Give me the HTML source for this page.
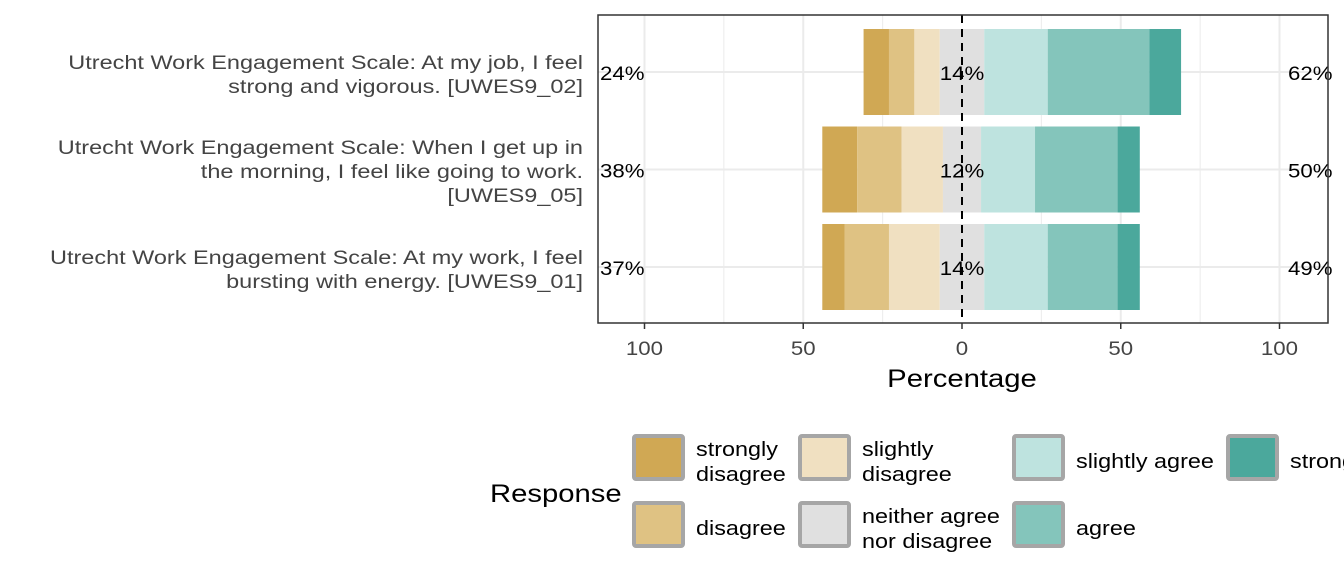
<!DOCTYPE html>
<html><head><meta charset="utf-8"><style>
body{margin:0;background:#fff;font-family:"Liberation Sans",sans-serif}
svg text{font-family:"Liberation Sans",sans-serif}
</style></head><body>
<svg width="1344" height="576" xmlns="http://www.w3.org/2000/svg">
<g id="grid"></g>
<g id="bars"></g>
<g id="labels"></g>
<rect x="598" y="15" width="730" height="308" fill="none" stroke="#333" stroke-width="1.5"/>
<g id="xticks"></g>
<text x="962" y="387" font-size="25" text-anchor="middle" fill="#000">Percentage</text>
<g id="ylabels" font-size="19" fill="#444" text-anchor="end">
<text x="583" y="69">Utrecht Work Engagement Scale: At my job, I feel</text>
<text x="583" y="93">strong and vigorous. [UWES9_02]</text>
<text x="583" y="154">Utrecht Work Engagement Scale: When I get up in</text>
<text x="583" y="178">the morning, I feel like going to work.</text>
<text x="583" y="202">[UWES9_05]</text>
<text x="583" y="264">Utrecht Work Engagement Scale: At my work, I feel</text>
<text x="583" y="288">bursting with energy. [UWES9_01]</text>
</g>
<g id="legend">
<text x="490" y="502" font-size="25" fill="#000">Response</text>
</g>
</svg>
<script>
const NS="http://www.w3.org/2000/svg";
const categories=["UWES9_02","UWES9_05","UWES9_01"];
const stronglyDisagree=[8,11,7];
const disagree=[8,14,14];
const slightlyDisagree=[8,13,16];
const neutral=[14,12,14];
const slightlyAgree=[20,17,20];
const agree=[32,26,22];
const stronglyAgree=[10,7,7];
const leftLabels=["24%","38%","37%"];
const midLabels=["14%","12%","14%"];
const rightLabels=["62%","50%","49%"];
const xTicks=[-100,-50,0,50,100];
const xTickLabels=["100","50","0","50","100"];
const colors=["#D0A854","#DFC283","#F0E0C1","#E0E0E0","#BEE3DF","#84C5BB","#4BA89C"];
const x=v=>962+v*3.175;
const yc=i=>72+i*97.5;
function mk(t,a,p){const e=document.createElementNS(NS,t);for(const k in a)e.setAttribute(k,a[k]);p.appendChild(e);return e;}
const grid=document.getElementById('grid');
for(let v=-100;v<=100;v+=25){if(v===0)continue;const l=mk('line',{x1:x(v),x2:x(v),y1:15,y2:323,stroke:'#ebebeb','stroke-width':v%50===0?2:1},grid);

}
categories.forEach((c,i)=>{const l=mk('line',{x1:598,x2:1328,y1:yc(i),y2:yc(i),stroke:'#ebebeb','stroke-width':2},grid);

});
const bars=document.getElementById('bars');
const series=[stronglyDisagree,disagree,slightlyDisagree,neutral,slightlyAgree,agree,stronglyAgree];
categories.forEach((c,i)=>{
 let start=-(stronglyDisagree[i]+disagree[i]+slightlyDisagree[i]+neutral[i]/2);
 series.forEach((s,k)=>{const r=mk('rect',{x:x(start),y:yc(i)-43,width:s[i]*3.175,height:86,fill:colors[k]},bars);
 
 
 start+=s[i];});
});
const zl=mk('line',{x1:x(0),x2:x(0),y1:15,y2:323,stroke:'#000','stroke-width':2,'stroke-dasharray':'8,6'},bars);


const lab=document.getElementById('labels');
categories.forEach((c,i)=>{
 [[600,leftLabels[i],'start'],[x(0),midLabels[i],'middle'],[1288,rightLabels[i],'start']].forEach(([px,t,a])=>{
 const e=mk('text',{x:px,y:yc(i)+8,'font-size':19,'text-anchor':a,fill:'#000'},lab);e.textContent=t;
 
 });
});
const xt=document.getElementById('xticks');
xTicks.forEach((v,i)=>{const l=mk('line',{x1:x(v),x2:x(v),y1:323,y2:329,stroke:'#333','stroke-width':1.5},xt);


const t=mk('text',{x:x(v),y:355,'font-size':19,'text-anchor':'middle',fill:'#444'},xt);t.textContent=xTickLabels[i];

});
const lg=document.getElementById('legend');
const pos=[[632,434],[632,501],[798,434],[798,501],[1012,434],[1012,501],[1226,434]];
const ltxt=[["strongly","disagree"],["disagree"],["slightly","disagree"],["neither agree","nor disagree"],["slightly agree"],["agree"],["strongly agree"]];
pos.forEach(([px,py],k)=>{const r=mk('rect',{x:px+2,y:py+2,width:49,height:43,fill:colors[k],stroke:'#a6a6a6','stroke-width':4,rx:2},lg);


const lines=ltxt[k];const ty=lines.length===2?py+22:py+34;
lines.forEach((s,j)=>{const t=mk('text',{x:px+64,y:ty+j*25,'font-size':20,fill:'#000'},lg);t.textContent=s;

});});
const yl=document.getElementById('ylabels');
document.querySelectorAll('svg text').forEach(t=>{const f=yl.contains(t)?1.235:1.17;const w=t.getComputedTextLength();t.setAttribute('textLength',(w*f).toFixed(1));t.setAttribute('lengthAdjust','spacingAndGlyphs');});
</script>
</body></html>
